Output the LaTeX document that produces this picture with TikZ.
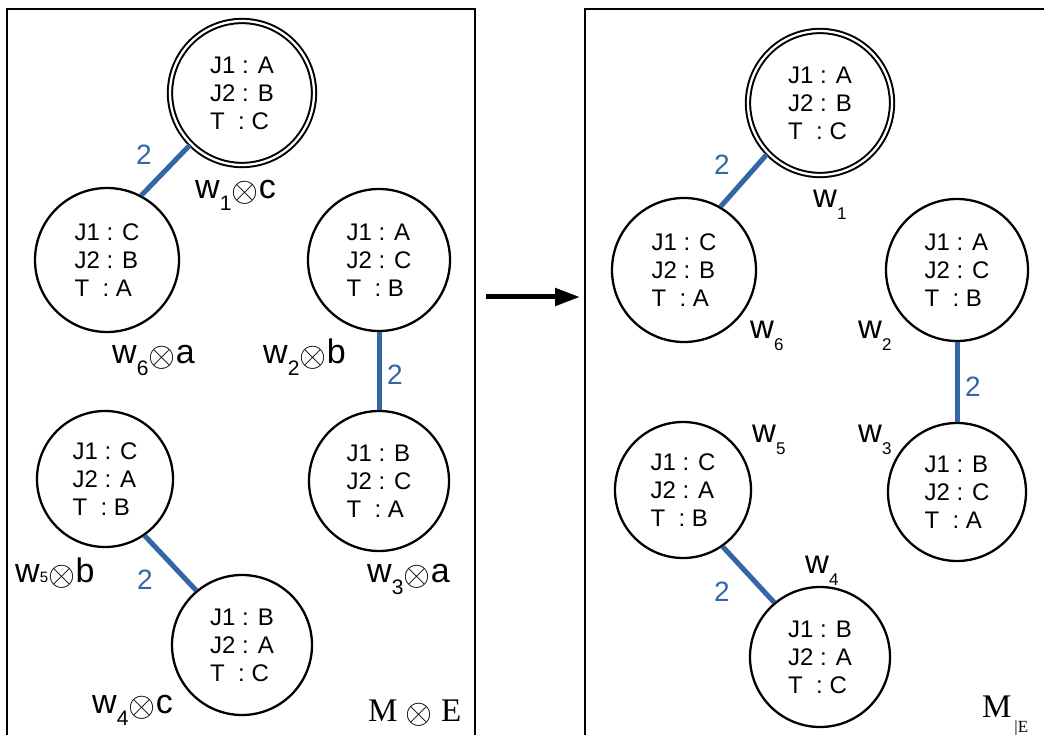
\documentclass[tikz,border=0pt]{standalone}
\usepackage{fontspec}
\setmainfont{Liberation Sans}
\newfontfamily\serifm{Liberation Serif}
\usetikzlibrary{arrows.meta}
\definecolor{eblue}{RGB}{52,101,164}
\newcommand\ot{\kern0.5pt\raisebox{-3pt}{\resizebox{27pt}{!}{$\otimes$}}}
\newcommand\bigot{\raisebox{-2pt}{\resizebox{27pt}{!}{$\otimes$}}}
\newcommand\lw[1]{w\raisebox{-12pt}{\fontsize{21}{21}\selectfont #1}}
\newcommand\rw[1]{w\raisebox{-12pt}{\fontsize{17}{17}\selectfont #1}}
\tikzset{
  world/.style={draw, circle, line width=2.3pt, inner sep=0pt, align=left,
    font=\fontsize{24}{28}\selectfont},
  initworld/.style={world, double, double distance=2.3pt, line width=2pt, outer sep=2pt},
  edgeline/.style={draw=eblue, line width=5pt},
  wt/.style={text=eblue, font=\fontsize{28}{28}\selectfont, inner sep=0pt},
  llbl/.style={anchor=base west, inner sep=0pt, font=\fontsize{34}{34}\selectfont},
  rlbl/.style={anchor=base west, inner sep=0pt, font=\fontsize{33}{33}\selectfont},
  framebox/.style={draw, line width=2.5pt},
}
\begin{document}
\begin{tikzpicture}[x=1pt,y=-1pt]
\useasboundingbox (0,0) rectangle (1044,735);
% frames
\draw[framebox] (7,760) -- (7,9) -- (475,9) -- (475,760);
\draw[framebox] (585,760) -- (585,9) -- (1060,9);
% left worlds
\node[initworld, minimum size=144pt] (L1) at (242,93) {J1 : A\\J2 : B\\T\ \ : C};
\node[world, minimum size=144pt] (L6) at (107,260) {J1 : C\\J2 : B\\T\ \ : A};
\node[world, minimum size=142pt] (L2) at (379,260) {J1 : A\\J2 : C\\T\ \ : B};
\node[world, minimum size=136pt] (L5) at (105,479) {J1 : C\\J2 : A\\T\ \ : B};
\node[world, minimum size=140pt] (L3) at (379,481) {J1 : B\\J2 : C\\T\ \ : A};
\node[world, minimum size=140pt] (L4) at (242,645) {J1 : B\\J2 : A\\T\ \ : C};
\draw[edgeline] (L1.225) -- (L6.62);
\draw[edgeline] (L2.south) -- (L3.north);
\draw[edgeline] (L5.-55) -- (L4.130);
\node[wt] (lw16) at (144,155) {2};
\node[wt] (lw23) at (395,375) {2};
\node[wt] (lw54) at (145,580) {2};
\node[llbl] (ll1) at (195,199) {\lw{1}\ot c};
\node[llbl] (ll6) at (112,363) {\lw{6}\ot a};
\node[llbl] (ll2) at (263,363) {\lw{2}\ot b};
\node[llbl] (ll5) at (15,582) {w{\fontsize{15}{15}\selectfont 5}\ot b};
\node[llbl] (ll3) at (367,582) {\lw{3}\ot a};
\node[llbl] (ll4) at (92,713) {\lw{4}\ot c};
\node[anchor=base west, inner sep=0pt, font=\serifm\fontsize{33}{33}\selectfont] (lME) at (368,721) {M \bigot{} E};
% arrow
\coordinate (as) at (486,297);
\coordinate (ae) at (580,297);
\draw[line width=5pt, -{Triangle[length=25pt,width=17pt]}] (as) -- (ae);
% right worlds
\node[initworld, minimum size=144pt] (R1) at (820,103) {J1 : A\\J2 : B\\T\ \ : C};
\node[world, minimum size=144pt] (R6) at (684,270) {J1 : C\\J2 : B\\T\ \ : A};
\node[world, minimum size=142pt] (R2) at (957,270) {J1 : A\\J2 : C\\T\ \ : B};
\node[world, minimum size=136pt] (R5) at (683,490) {J1 : C\\J2 : A\\T\ \ : B};
\node[world, minimum size=138pt] (R3) at (957,492) {J1 : B\\J2 : C\\T\ \ : A};
\node[world, minimum size=140pt] (R4) at (820,657) {J1 : B\\J2 : A\\T\ \ : C};
\draw[edgeline] (R1.224) -- (R6.60);
\draw[edgeline] (R2.south) -- (R3.north);
\draw[edgeline] (R5.-55) -- (R4.130);
\node[wt] (rw16) at (722,165) {2};
\node[wt] (rw23) at (973,387) {2};
\node[wt] (rw54) at (722,592) {2};
\node[rlbl] (rl1) at (813,208) {\rw{1}};
\node[rlbl] (rl6) at (750,338) {\rw{6}};
\node[rlbl] (rl2) at (858,338) {\rw{2}};
\node[rlbl] (rl5) at (752,442) {\rw{5}};
\node[rlbl] (rl3) at (858,442) {\rw{3}};
\node[rlbl] (rl4) at (805,573) {\rw{4}};
\node[anchor=base west, inner sep=0pt, font=\serifm\fontsize{33}{33}\selectfont] (rME) at (982,717) {M\raisebox{-15pt}{\fontsize{17}{17}\selectfont\,|E}};
\end{tikzpicture}
\end{document}
